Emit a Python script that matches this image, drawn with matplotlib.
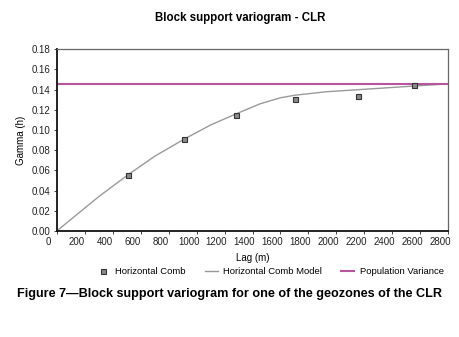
import numpy as np
import matplotlib.pyplot as plt
import matplotlib.transforms as mtransforms

plt.rcParams['font.family'] = ['Liberation Sans', 'DejaVu Sans']

# datos
lag_exp = [513, 911, 1280, 1702, 2157, 2554]
gamma_exp = [0.0557, 0.0914, 0.1146, 0.1310, 0.1337, 0.1443]

lag_mod = [0, 150, 300, 513, 700, 911, 1100, 1282, 1454, 1600, 1702, 1931, 2157, 2554, 2800]
gamma_mod = [0.0, 0.017, 0.034, 0.056, 0.074, 0.091, 0.105, 0.116, 0.126, 0.132,
             0.1345, 0.138, 0.140, 0.1436, 0.1458]

pop_var = 0.146

xticks = np.arange(0, 2801, 200)
yticks = np.arange(0, 0.181, 0.02)

#%%----------------------------------------
fig = plt.figure(figsize=(4.6, 3.37), dpi=100)
ax = fig.add_axes([0.1233, 0.3145, 0.8513, 0.5392])

ax.plot(lag_exp, gamma_exp, 's', ms=3.6, mfc='#8a8a8a', mec='#333333', mew=0.8,
        label='Horizontal Comb', zorder=4)
ax.plot(lag_mod, gamma_mod, '-', color='#9a9a9a', lw=1.0, label='Horizontal Comb Model')
ax.axhline(pop_var, color='#b8559e', lw=1.5, label='Population Variance')

ax.set_xlim(0, 2800)
ax.set_ylim(0, 0.18)
ax.set_xticks(xticks)
ax.set_yticks(yticks)
ax.set_yticklabels(['%.2f' % v for v in yticks])
ax.tick_params(labelsize=7, length=2.5, width=0.6, pad=2, colors='#222222')

# las etiquetas del eje x aparecen algo desplazadas a la izquierda
off = mtransforms.ScaledTranslation(-8 / 100, 0, fig.dpi_scale_trans)
for lab in ax.get_xticklabels():
    lab.set_transform(lab.get_transform() + off)

for s in ['left', 'bottom']:
    ax.spines[s].set_color('#111111')
    ax.spines[s].set_linewidth(1.3)
for s in ['top', 'right']:
    ax.spines[s].set_color('#666666')
    ax.spines[s].set_linewidth(0.9)

ax.set_xlabel('Lag (m)', fontsize=7, labelpad=4)
ax.set_ylabel('Gamma (h)', fontsize=7, labelpad=4)

fig.text(0.522, 0.948, 'Block support variogram - CLR', ha='center', va='center',
         fontsize=8.3, fontweight='bold')

ax.legend(loc='upper center', bbox_to_anchor=(0.545, -0.2), ncol=3, frameon=False,
          fontsize=6.8, handlelength=1.4, handletextpad=0.6, columnspacing=2.0,
          borderaxespad=0, borderpad=0)

fig.text(0.038, 0.128, 'Figure 7\u2014Block support variogram for one of the geozones of the CLR',
         ha='left', va='center', fontsize=9.1, fontweight='bold')

fig.savefig('out.png', dpi=100)
